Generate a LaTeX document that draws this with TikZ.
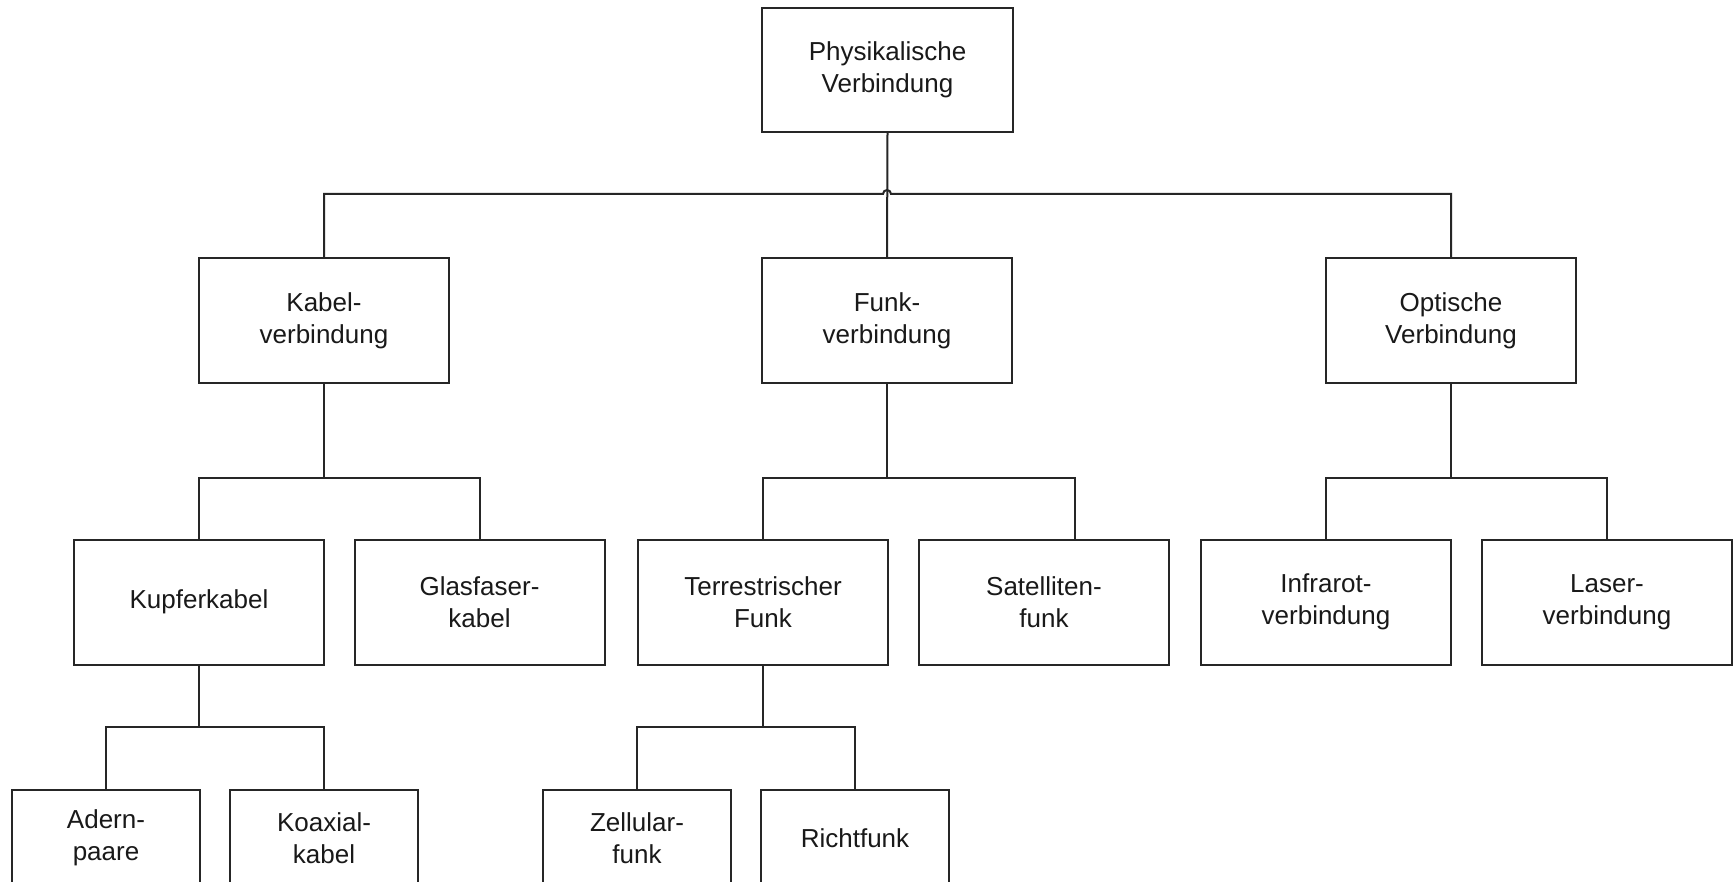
\documentclass[tikz,border=0pt]{standalone}
\usepackage{fontspec}
\setmainfont{Liberation Sans}
\begin{document}
\begin{tikzpicture}[x=0.5pt,y=0.5pt,
  box/.style={draw=black!85, line width=1pt, rectangle, align=center, inner sep=0pt,
    font=\fontsize{13pt}{16pt}\selectfont, text=black!90},
  bigbox/.style={box, minimum width=125pt, minimum height=62.5pt},
  smallbox/.style={box, minimum width=94pt, minimum height=48pt},
  link/.style={draw=black!85, line width=1pt}]
\clip (0,0) rectangle (1736,-882);
\fill[white] (0,0) rectangle (1736,-882);

% top level
\node[bigbox, minimum width=125.5pt, minimum height=62pt] (root) at (887.5,-70) {Physikalische\\Verbindung};

% second level
\node[bigbox] (kabel) at (324,-320.5) {Kabel-\\verbindung};
\node[bigbox] (funk)  at (887,-320.5) {Funk-\\verbindung};
\node[bigbox] (opt)   at (1451,-320.5) {Optische\\Verbindung};

% third level
\node[bigbox] (kupfer) at (199,-602)   {Kupferkabel};
\node[bigbox] (glas)   at (479.5,-602) {Glasfaser-\\kabel};
\node[bigbox] (terr)   at (763,-602)   {Terrestrischer\\Funk};
\node[bigbox] (sat)    at (1044,-602)  {Satelliten-\\funk};
\node[bigbox] (infra)  at (1326,-602)  {Infrarot-\\verbindung};
\node[bigbox] (laser)  at (1607,-602)  {Laser-\\verbindung};

% fourth level
\node[smallbox] (adern) at (106,-838) {Adern-\\paare};
\node[smallbox] (koax)  at (324,-838) {Koaxial-\\kabel};
\node[smallbox] (zell)  at (637,-838) {Zellular-\\funk};
\node[smallbox] (richt) at (855,-838) {Richtfunk};

% bus junctions
\coordinate (hop) at (883,-194);
\coordinate (kb)  at (324,-478);
\coordinate (fb)  at (887,-478);
\coordinate (ob)  at (1451,-478);
\coordinate (kub) at (199,-727);
\coordinate (tb)  at (763,-727);

% root connectors, with a line hop over the vertical
\draw[link] (root.south) -- (funk.north);
\draw[link] (kabel.north) |- (hop) arc[start angle=180, end angle=0, radius=4] -| (opt.north);

% second-level connectors
\draw[link] (kabel.south) -- (kb);
\draw[link] (kupfer.north) |- (kb) -| (glas.north);
\draw[link] (funk.south) -- (fb);
\draw[link] (terr.north) |- (fb) -| ([xshift=15.5pt]sat.north);
\draw[link] (opt.south) -- (ob);
\draw[link] (infra.north) |- (ob) -| (laser.north);

% third-level connectors
\draw[link] (kupfer.south) -- (kub);
\draw[link] (adern.north) |- (kub) -| (koax.north);
\draw[link] (terr.south) -- (tb);
\draw[link] (zell.north) |- (tb) -| (richt.north);
\end{tikzpicture}
\end{document}
